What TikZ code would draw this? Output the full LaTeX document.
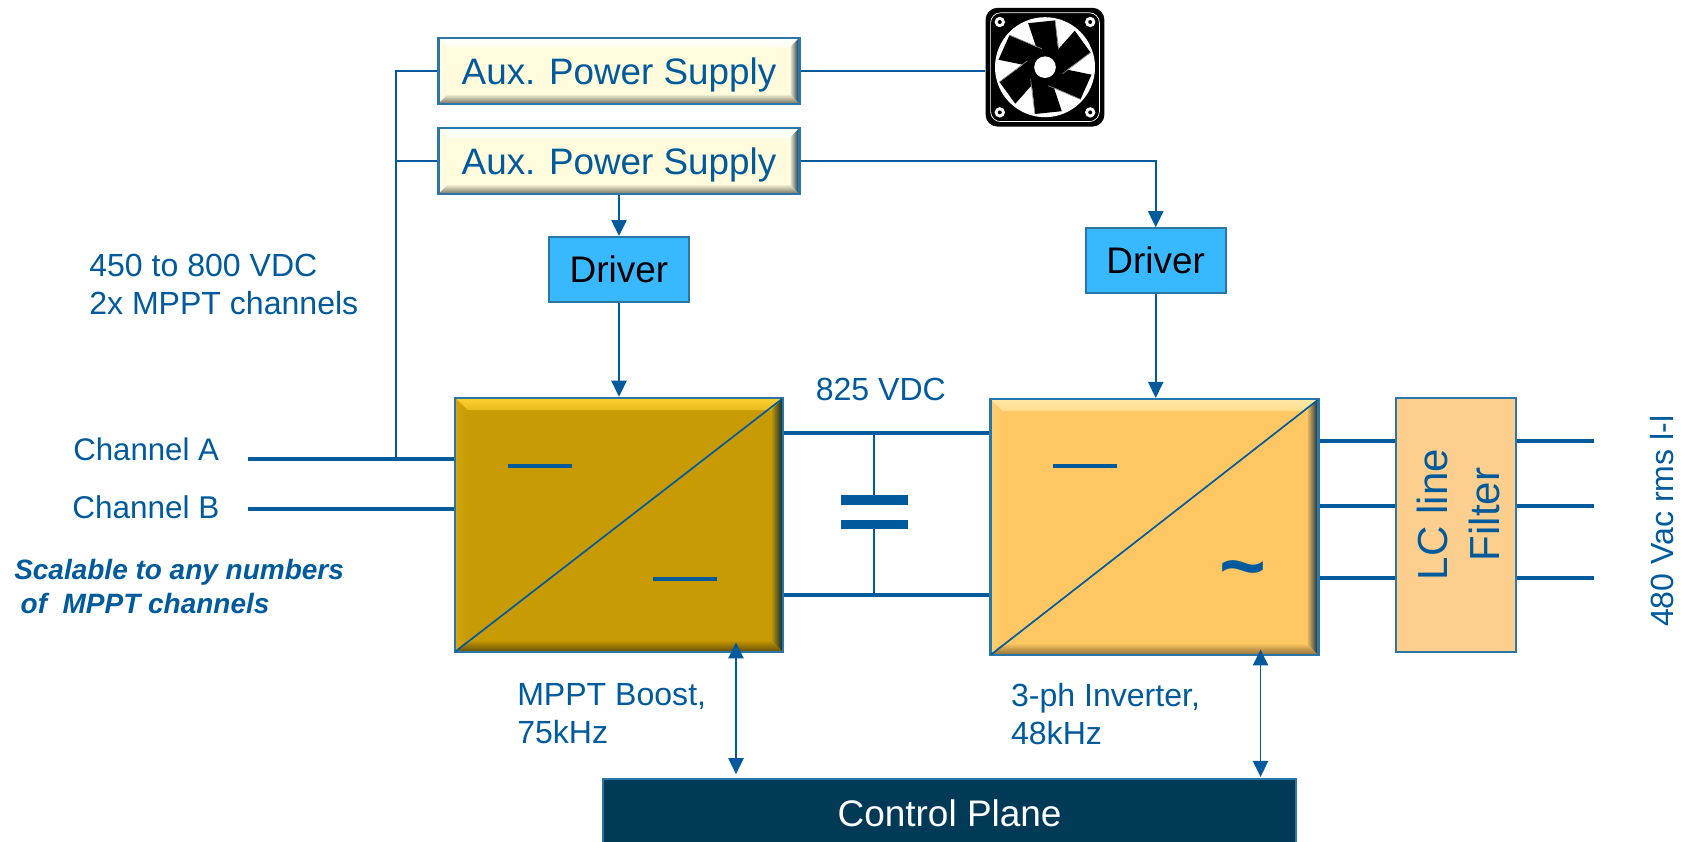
\documentclass[tikz,border=0pt]{standalone}
\usepackage{fontspec}
\setmainfont{Liberation Sans}
\usetikzlibrary{positioning, arrows.meta, calc}
\definecolor{linkblue}{HTML}{005A9C}
\definecolor{edgeblue}{HTML}{2A76A8}
\definecolor{auxfill}{HTML}{FFFBDC}
\definecolor{drvfill}{HTML}{38B9FF}
\definecolor{bstfill}{HTML}{C89A04}
\definecolor{bstlight}{HTML}{FFD030}
\definecolor{invfill}{HTML}{FFC763}
\definecolor{invlight}{HTML}{FFE9A8}
\definecolor{lcfill}{HTML}{FDCF8E}
\definecolor{ctrlfill}{HTML}{003A57}
\definecolor{navyedge}{HTML}{02233A}
\newcommand{\bevelfill}[4]{%
    \coordinate (bb_nw) at (path picture bounding box.north west);
    \coordinate (bb_ne) at (path picture bounding box.north east);
    \coordinate (bb_sw) at (path picture bounding box.south west);
    \coordinate (bb_se) at (path picture bounding box.south east);
    \shade[top color=#2, bottom color=#2!60!#1] (bb_nw) -- (bb_ne) -- ([shift={(-#4,-#4)}]bb_ne) -- ([shift={(#4,-#4)}]bb_nw) -- cycle;
    \shade[left color=#1!75!#2, right color=#1] (bb_nw) -- ([shift={(#4,-#4)}]bb_nw) -- ([shift={(#4,#4)}]bb_sw) -- (bb_sw) -- cycle;
    \shade[top color=#1, bottom color=#3] (bb_sw) -- ([shift={(#4,#4)}]bb_sw) -- ([shift={(-#4,#4)}]bb_se) -- (bb_se) -- cycle;
    \shade[left color=#1, right color=navyedge] (bb_ne) -- ([shift={(-#4,-#4)}]bb_ne) -- ([shift={(-#4,#4)}]bb_se) -- (bb_se) -- cycle;
}

\begin{document}
\begin{tikzpicture}[
        txt/.style={text=linkblue, font=\fontsize{22.8}{27}\selectfont, align=left, inner sep=0pt},
        aux_box/.style={draw=edgeblue, line width=1.6pt, fill=auxfill, minimum width=9.025cm, minimum height=1.65cm, inner sep=0pt, text depth=0pt, text=linkblue, font=\fontsize{26.2}{30}\selectfont, path picture={\bevelfill{auxfill}{white}{black!55!auxfill}{0.25cm}}},
        driver_box/.style={draw=edgeblue, line width=1.2pt, fill=drvfill, minimum width=3.5cm, minimum height=1.625cm, inner sep=0pt, font=\fontsize{26.3}{30}\selectfont},
        conv_box/.style={draw=edgeblue, line width=1.8pt, minimum width=8.2cm, minimum height=6.35cm, inner sep=0pt},
        wire/.style={draw=linkblue, line width=1.2pt},
        rail/.style={draw=linkblue, line width=2.8pt},
        feed/.style={wire, -{Triangle[length=0.4cm,width=0.38cm]}},
        both_feed/.style={wire, {Triangle[length=0.4cm,width=0.38cm]}-{Triangle[length=0.4cm,width=0.38cm]}},
        bar/.style={fill=linkblue, minimum width=1.6cm, minimum height=0.1cm, inner sep=0pt},
        plate/.style={fill=linkblue, minimum width=1.675cm, minimum height=0.23cm, inner sep=0pt}
    ]
    \useasboundingbox (0,0) rectangle (42.05,-21.05);

    % Converters
    \node[conv_box, fill=bstfill, path picture={\bevelfill{bstfill}{bstlight}{bstfill!50!black}{0.3cm}}] (boost) at (15.475,-13.125) {};
    \node[conv_box, fill=invfill, minimum height=6.4cm, right=5.125cm of boost, yshift=-0.055cm, path picture={\bevelfill{invfill}{invlight}{invfill!55!black}{0.3cm}}] (inverter) {};
    \node[draw=edgeblue, line width=1.6pt, fill=lcfill, minimum width=3cm, minimum height=6.35cm, right=1.87cm of inverter, yshift=0.055cm] (filter) {};
    \node[txt, rotate=90, align=center, text=linkblue, font=\fontsize{29.9}{37}\selectfont] (filter_txt) at ([shift={(0.08,0.26)}]filter.center) {LC line\\Filter};
    \draw[wire] ([shift={(0.05,0.05)}]boost.south west) -- ([shift={(-0.05,-0.05)}]boost.north east);
    \draw[wire] ([shift={(0.05,0.05)}]inverter.south west) -- ([shift={(-0.05,-0.05)}]inverter.north east);
    \node[bar] (dc_a) at ([shift={(-1.975,1.475)}]boost.center) {};
    \node[bar] (dc_b) at ([shift={(1.65,-1.35)}]boost.center) {};
    \node[bar] (dc_c) at ([shift={(-1.74,1.54)}]inverter.center) {};
    \node[text=linkblue, inner sep=0pt, font=\bfseries\fontsize{57}{57}\selectfont] (ac_sign) at ([shift={(2.2,-1.25)}]inverter.center) {\textasciitilde};

    % Drivers and supplies
    \node[driver_box, above=2.35cm of boost] (driver_1) {Driver};
    \node[driver_box, above=2.6cm of inverter, xshift=0.03cm] (driver_2) {Driver};
    \node[aux_box, above=1.025cm of driver_1] (aux_2) {Aux. Power Supply};
    \node[aux_box, above=0.55cm of aux_2] (aux_1) {Aux. Power Supply};
    \node[fill=black, rounded corners=0.3cm, minimum size=2.97cm, inner sep=0pt] (fan) at (26.125,-1.68) {};
    \begin{scope}[shift={(fan.center)}]
        \draw[white, line width=0.5pt, rounded corners=0.25cm] (-1.36,-1.36) rectangle (1.36,1.36);
        \fill[white] (0,0) circle (1.25);
        \foreach \ang in {0,60,...,300} {
            \fill[black, rotate=\ang] (-0.42,1.1) -- (0.25,1.17) -- (0.36,0.15) -- (-0.12,0.2) -- cycle;
            \draw[black!50, line width=0.5pt, rotate=\ang] (0.25,1.17) -- (0.36,0.3);
        }
        \fill[white] (0,0) circle (0.27);
        \foreach \sx/\sy in {-1/-1,-1/1,1/-1,1/1} {
            \fill[white] (\sx*1.13,\sy*1.13) circle (0.13);
            \fill[black] (\sx*1.13,\sy*1.13) circle (0.05);
        }
    \end{scope}

    % Control plane
    \node[draw=edgeblue, line width=1pt, fill=ctrlfill, text=white, minimum width=17.325cm, minimum height=1.7cm, font=\fontsize{26.3}{30}\selectfont] (control) at (23.74,-20.32) {Control Plane};

    % Labels
    \node[txt, anchor=west] (range_txt) at (2.225,-7.1) {450 to 800 VDC\\2x MPPT channels};
    \node[txt, anchor=west, font=\fontsize{22.2}{27}\selectfont] (ch_a_txt) at (1.825,-11.24) {Channel A};
    \node[txt, anchor=west, font=\fontsize{22.4}{27}\selectfont] (ch_b_txt) at (1.8,-12.69) {Channel B};
    \node[txt, anchor=west, font=\bfseries\itshape\fontsize{19.9}{24.2}\selectfont] (scale_txt) at (0.35,-14.66) {Scalable to any numbers\\\hspace{4.6pt}of \ MPPT channels};
    \node[txt] (bus_txt) at (22.02,-9.73) {825 VDC};
    \node[txt, anchor=west] (boost_txt) at (12.925,-17.84) {MPPT Boost,\\75kHz};
    \node[txt, anchor=west] (inv_txt) at (25.27,-17.86) {3-ph Inverter,\\48kHz};
    \node[txt, rotate=90] (grid_txt) at (41.55,-13.03) {480 Vac rms l-l};

    % Input channels
    \coordinate (ch_a) at (6.2,-11.475);
    \coordinate (ch_b) at (6.2,-12.72);
    \coordinate (tap) at (9.9,-11.475);
    \draw[rail] (ch_a) -- (ch_a -| boost.west);
    \draw[rail] (ch_b) -- (ch_b -| boost.west);
    \draw[wire] (aux_1.west) -| (tap);
    \draw[wire] (aux_2.west) -- (aux_2.west -| tap);

    % Supply feeds
    \draw[wire] (aux_1.east) -- (aux_1.east -| fan.west);
    \draw[feed] (aux_2.south) -- (driver_1.north);
    \draw[feed] (aux_2.east) -| (driver_2.north);
    \draw[feed] (driver_1.south) -- (boost.north);
    \draw[feed] (driver_2.south) -- (driver_2.south |- inverter.north);

    % DC bus
    \coordinate (bus_p) at ([yshift=2.3cm]boost.east);
    \coordinate (bus_n) at ([yshift=-1.75cm]boost.east);
    \draw[rail] (bus_p) -- (bus_p -| inverter.west);
    \draw[rail] (bus_n) -- (bus_n -| inverter.west);
    \node[plate] (cap_p) at (21.85,-12.5) {};
    \node[plate, below=0.36cm of cap_p] (cap_n) {};
    \draw[wire] (cap_p.north |- bus_p) -- (cap_p.north);
    \draw[wire] (cap_n.south) -- (cap_n.south |- bus_n);

    % Three phases
    \foreach \ph/\dy in {a/2.16,b/0.54,c/-1.26} {
        \coordinate (in_\ph) at ([yshift=\dy cm]inverter.east);
        \coordinate (out_\ph) at ([xshift=1.925cm]in_\ph -| filter.east);
        \draw[rail] (in_\ph) -- (in_\ph -| filter.west);
        \draw[rail] (in_\ph -| filter.east) -- (out_\ph);
    }

    % Control links
    \coordinate (boost_link) at ([shift={(2.925,0.275)}]boost.south);
    \coordinate (inv_link) at ([shift={(2.65,0.175)}]inverter.south);
    \draw[both_feed, shorten >=0.1cm] (boost_link) -- (boost_link |- control.north);
    \draw[both_feed, shorten >=0.03cm] (inv_link) -- (inv_link |- control.north);
\end{tikzpicture}
\end{document}
